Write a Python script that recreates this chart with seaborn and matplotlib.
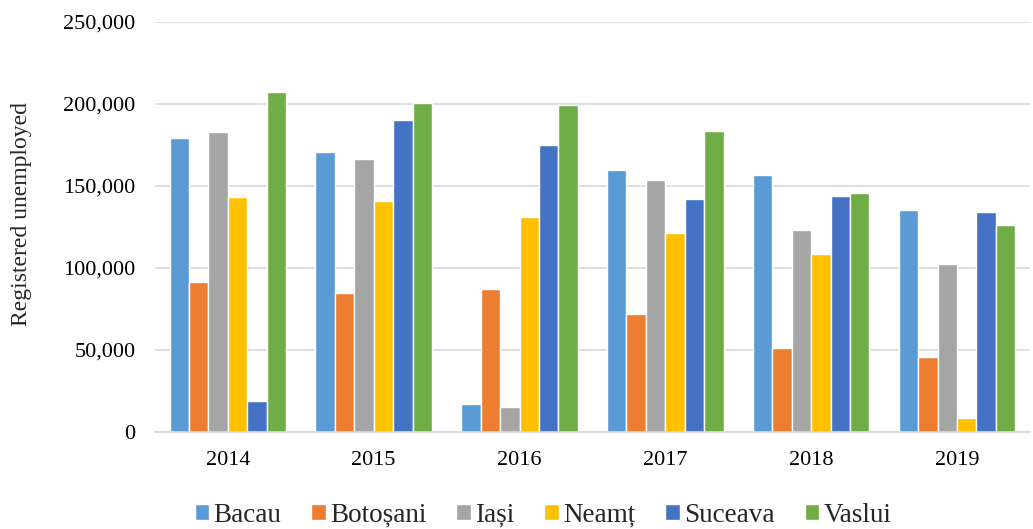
import matplotlib
matplotlib.use("Agg")
import matplotlib.pyplot as plt
from matplotlib.ticker import FuncFormatter, MultipleLocator
import seaborn as sns
import pandas as pd

# Registered unemployed by county and year
years = ["2014", "2015", "2016", "2017", "2018", "2019"]
counties = ["Bacau", "Botoșani", "Iași", "Neamț", "Suceava", "Vaslui"]
bacau = [179000, 171000, 16900, 159800, 156500, 135200]
botosani = [91600, 84700, 86900, 72100, 51200, 45900]
iasi = [182900, 166700, 15500, 153700, 123300, 102700]
neamt = [143300, 141100, 130900, 121600, 108800, 8800]
suceava = [18900, 190400, 174800, 142300, 144000, 134400]
vaslui = [207100, 200600, 199400, 183300, 145600, 126100]
colors = ["#5B9BD5", "#ED7D31", "#A5A5A5", "#FFC000", "#4472C4", "#70AD47"]

series = [bacau, botosani, iasi, neamt, suceava, vaslui]
rows = []
for county, vals in zip(counties, series):
    for yr, v in zip(years, vals):
        rows.append({"year": yr, "county": county, "value": v})
df = pd.DataFrame(rows)

sns.set_theme(style="white")
serif = "Liberation Serif"
plt.rcParams["font.family"] = serif

fig = plt.figure(figsize=(10.33, 5.29), dpi=100)
ax = fig.add_axes([0.150, 0.1834, 0.847, 0.7750])

sns.barplot(data=df, x="year", y="value", hue="county", order=years,
            hue_order=counties, palette=colors, width=0.8,
            edgecolor="white", linewidth=1.0, saturation=1, ax=ax)

handles, labels = ax.get_legend_handles_labels()
if ax.get_legend() is not None:
    ax.get_legend().remove()

ax.set_ylim(0, 250000)
ax.yaxis.set_major_locator(MultipleLocator(50000))
ax.yaxis.set_major_formatter(FuncFormatter(lambda v, p: f"{int(v):,}"))
ax.grid(axis="y", color="#d9d9d9", linewidth=1.2)
ax.set_axisbelow(True)
for side in ["top", "right", "left"]:
    ax.spines[side].set_visible(False)
ax.spines["bottom"].set_color("#d9d9d9")
ax.spines["bottom"].set_linewidth(1.2)
ax.tick_params(axis="both", length=0, labelsize=16, colors="black")
ax.tick_params(axis="x", pad=14)
ax.tick_params(axis="y", pad=14)
for lbl in ax.get_xticklabels() + ax.get_yticklabels():
    lbl.set_family(serif)
ax.set_xlabel("")
ax.set_ylabel("")

fig.text(22 / 1033, 1 - 214 / 529, "Registered unemployed", rotation=90,
         ha="center", va="center", fontsize=17, family=serif)

leg = fig.legend(handles, labels, loc="center",
                 bbox_to_anchor=(543 / 1033, 1 - 515 / 529),
                 ncol=6, frameon=False, prop={"family": serif, "size": 19.5},
                 handlelength=0.55, handleheight=0.55, handletextpad=0.15,
                 columnspacing=1.1, borderaxespad=0)
for t in leg.get_texts():
    t.set_family(serif)

fig.savefig("out.png", dpi=100)
